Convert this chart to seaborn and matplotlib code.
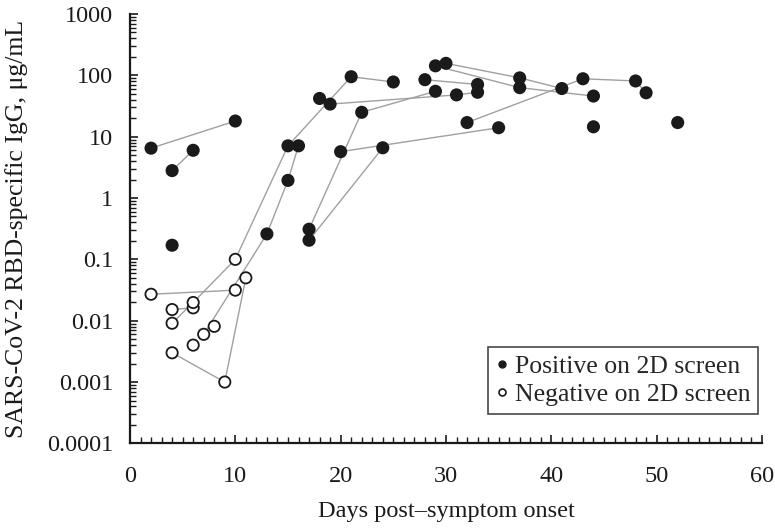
import pandas as pd
import matplotlib
matplotlib.use('Agg')
import matplotlib.pyplot as plt
from matplotlib.lines import Line2D
from matplotlib.ticker import LogLocator, FixedLocator, FuncFormatter, MultipleLocator
import seaborn as sns

# one row per sample; samples of the same patient share an id and are joined by a line
patient = [1, 1, 2, 2, 3, 4, 4, 5, 5,
           6, 6, 6, 6, 6, 6,
           7, 7, 7, 8,
           9, 9, 9, 9, 10,
           11, 11, 11, 12, 12, 13, 13, 14,
           15, 15, 15, 16, 16, 17, 17, 17,
           18, 18, 18, 19, 19, 19, 19, 20, 21]
day = [2, 10, 4, 6, 4, 2, 10, 4, 6,
       4, 6, 10, 15, 21, 25,
       4, 9, 11, 6,
       7, 13, 15, 16, 8,
       17, 22, 29, 17, 24, 20, 35, 18,
       19, 31, 33, 28, 33, 29, 37, 44,
       30, 37, 41, 32, 43, 48, 49, 44, 52]
igg = [6.5, 18, 2.8, 6.0, 0.17, 0.027, 0.0315, 0.0152, 0.0162,
       0.0091, 0.0198, 0.1, 7.1, 95, 78,
       0.003, 0.001, 0.05, 0.004,
       0.006, 0.26, 1.94, 7.1, 0.0081,
       0.31, 25, 55, 0.205, 6.6, 5.7, 14, 42,
       34, 48, 53, 85, 71, 143, 63, 46,
       157, 91, 61, 17, 88, 81, 52, 14.5, 17]
POS = 'Positive on 2D screen'
NEG = 'Negative on 2D screen'
screen = [POS, POS, POS, POS, POS, NEG, NEG, NEG, NEG,
          NEG, NEG, NEG, POS, POS, POS,
          NEG, NEG, NEG, NEG,
          NEG, POS, POS, POS, NEG,
          POS, POS, POS, POS, POS, POS, POS, POS,
          POS, POS, POS, POS, POS, POS, POS, POS,
          POS, POS, POS, POS, POS, POS, POS, POS, POS]

df = pd.DataFrame({'patient': patient, 'day': day, 'igg': igg, 'screen': screen})

sns.set_style('ticks')
plt.rcParams['font.family'] = ['Liberation Serif', 'DejaVu Serif']

fig = plt.figure(figsize=(7.75, 5.31), dpi=100)
ax = fig.add_axes([0.1677, 0.165, 0.8155, 0.8086])
ax.set_yscale('log')

sns.lineplot(data=df, x='day', y='igg', units='patient', estimator=None,
             color='#a0a0a0', linewidth=1.0, legend=False, ax=ax, zorder=1)
sns.scatterplot(data=df, x='day', y='igg', hue='screen',
                palette={POS: '#1a1a1a', NEG: 'white'}, edgecolor='#1a1a1a',
                linewidth=1.3, s=66, legend=False, ax=ax, zorder=3)

ax.set_xlim(0, 60)
ax.set_ylim(0.0001, 1000)
ax.xaxis.set_major_locator(MultipleLocator(10))
ax.xaxis.set_minor_locator(MultipleLocator(1))
ax.yaxis.set_major_locator(FixedLocator([1e-4, 1e-3, 1e-2, 0.1, 1, 10, 100, 1000]))
ax.yaxis.set_minor_locator(LogLocator(base=10, subs=range(2, 10), numticks=20))
ax.yaxis.set_major_formatter(FuncFormatter(lambda v, p: '{:g}'.format(v) if v >= 1e-3 else '0.0001'))

ax.tick_params(axis='both', which='major', direction='in', length=6, width=1.2,
               labelsize=17.5, colors='#1a1a1a')
ax.tick_params(axis='x', which='major', pad=16)
ax.tick_params(axis='y', which='major', pad=12)
ax.tick_params(axis='both', which='minor', direction='in', length=4, width=1.0,
               colors='#1a1a1a')
sns.despine(ax=ax)
for s in ['left', 'bottom']:
    ax.spines[s].set_linewidth(1.6)
    ax.spines[s].set_color('#1a1a1a')

ax.set_xlabel('Days post\u2013symptom onset', fontsize=17.5, color='#1a1a1a')
ax.set_ylabel('SARS-CoV-2 RBD-specific IgG, \u03bcg/mL', fontsize=18.5, color='#1a1a1a')
ax.xaxis.set_label_coords(0.5, -0.134)
ax.yaxis.set_label_coords(-0.161, 0.5)

handles = [
    Line2D([], [], marker='o', ls='none', color='#1a1a1a', markersize=5, label=POS),
    Line2D([], [], marker='o', ls='none', markerfacecolor='white', markeredgecolor='#1a1a1a',
           markeredgewidth=1.2, markersize=5, label=NEG),
]
leg = ax.legend(handles=handles, loc='upper right', bbox_to_anchor=(0.994, 0.224),
                borderaxespad=0, fontsize=18.5, frameon=True, fancybox=False,
                handlelength=0.5, handletextpad=0.25, borderpad=0.3, labelspacing=0.2)
leg.get_frame().set_edgecolor('#1a1a1a')
leg.get_frame().set_linewidth(1.2)

plt.savefig('out.png', dpi=100)
plt.close()
